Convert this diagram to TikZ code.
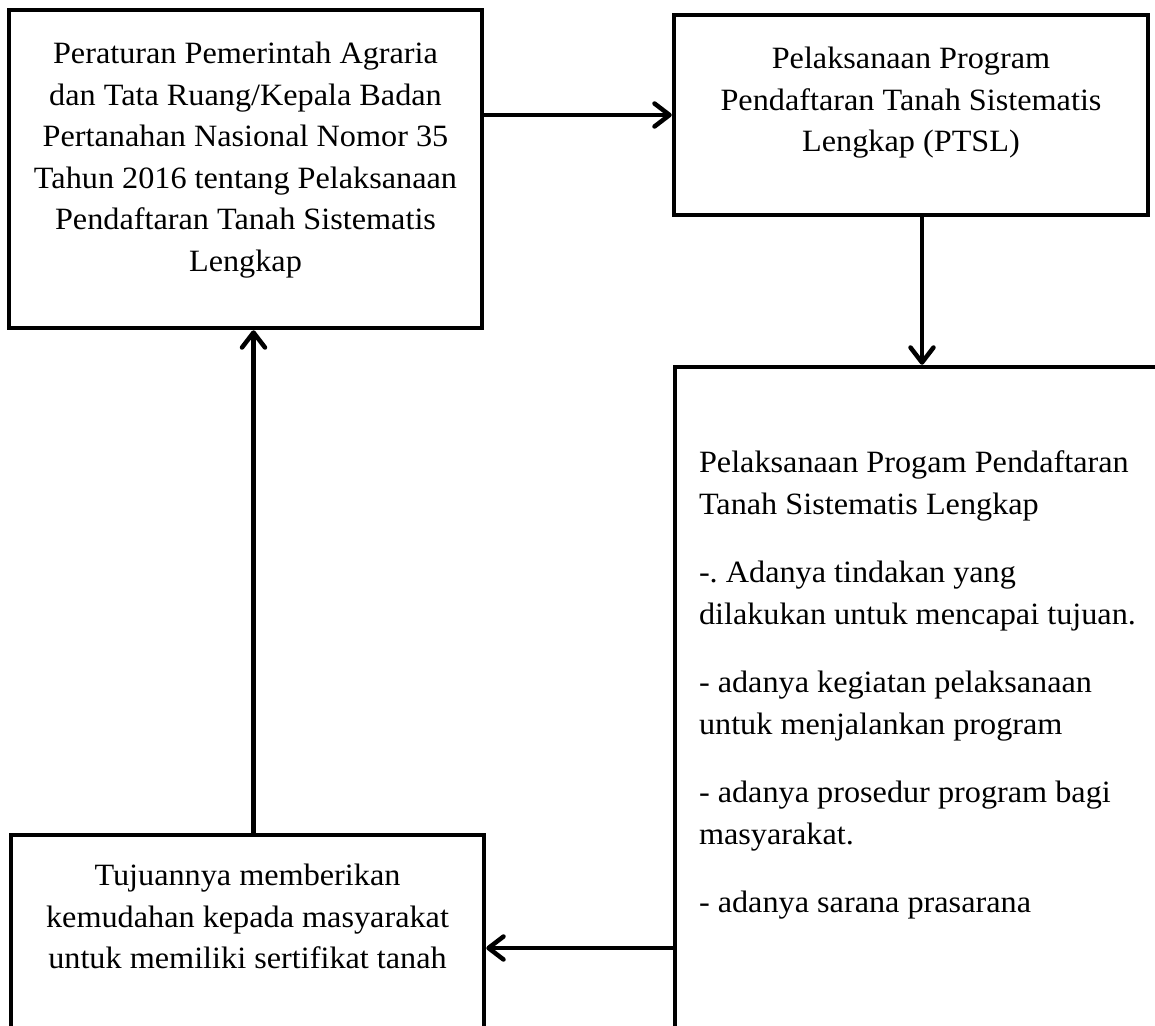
\documentclass[tikz,border=0pt]{standalone}
\usepackage{fontspec}
\setmainfont{Liberation Serif}[FakeStretch=1.04]
\usetikzlibrary{arrows.meta}

\newcommand{\centerbox}[4]{\parbox[c][#2][t]{#1}{\vspace*{#3}\centering #4}}
\newcommand{\leftbox}[5]{\parbox[c][#2][t]{#1}{\vspace*{#3}\raggedright\leftskip=#4 #5}}

\begin{document}
\frenchspacing
\begin{tikzpicture}[x=1pt, y=-1pt,
    every node/.style={font=\fontsize{31}{41.5}\selectfont},
    frame/.style={draw, rectangle, line width=4.5pt, inner sep=0pt},
    link/.style={-{Straight Barb[length=15pt, width=23pt, round]}, line width=4.5pt}]
    \useasboundingbox (0,0) rectangle (1155,1025);
    \clip (0,0) rectangle (1155,1025);
    \node[frame] (Regulation) at (245.5,169) {\centerbox{473pt}{318pt}{32pt}{Peraturan Pemerintah Agraria\\ dan Tata Ruang/Kepala Badan\\ Pertanahan Nasional Nomor 35\\ Tahun 2016 tentang Pelaksanaan\\ Pendaftaran Tanah Sistematis\\ Lengkap}};
    \node[frame] (Program) at (911,115) {\centerbox{474pt}{200pt}{32pt}{Pelaksanaan Program\\ Pendaftaran Tanah Sistematis\\ Lengkap (PTSL)}};
    \node[frame] (Implementation) at (922,733.5) {\leftbox{494pt}{733pt}{84pt}{24pt}{Pelaksanaan Progam Pendaftaran\\ Tanah Sistematis Lengkap\\[27pt] -. Adanya tindakan yang\\ dilakukan untuk mencapai tujuan.\\[27pt] - adanya kegiatan pelaksanaan\\ untuk menjalankan program\\[27pt] - adanya prosedur program bagi\\ masyarakat.\\[27pt] - adanya sarana prasarana}};
    \node[frame] (Goal) at (247.5,948) {\centerbox{473pt}{226pt}{29pt}{Tujuannya memberikan\\ kemudahan kepada masyarakat\\ untuk memiliki sertifikat tanah}};
    \draw[link] (Regulation.east |- Program.west) -- (Program.west);
    \draw[link] (Program.south -| Implementation.north) -- (Implementation.north);
    \draw[link] (Implementation.west |- Goal.east) -- (Goal.east);
    \draw[link] ([xshift=6pt]Goal.north) -- ([xshift=6pt]Goal.north |- Regulation.south);
\end{tikzpicture}
\end{document}
